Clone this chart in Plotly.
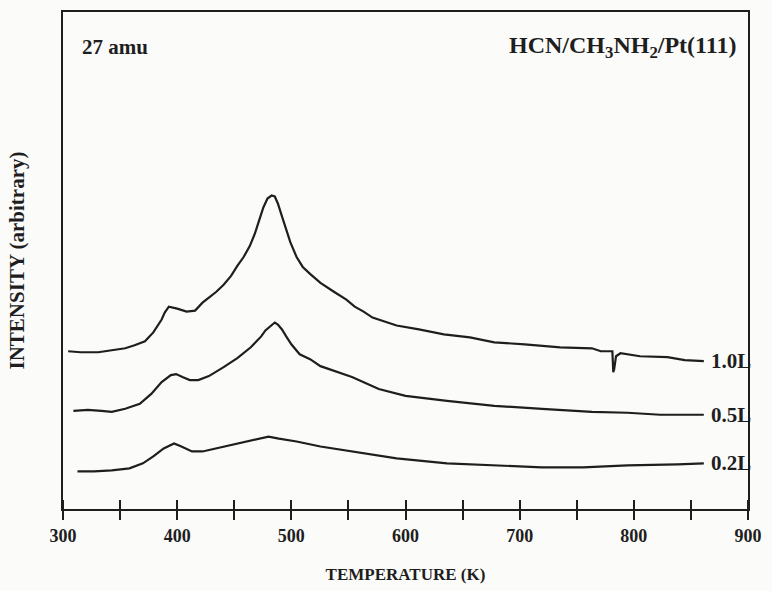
import plotly.graph_objects as go

# ---- data (temperature in K, intensity in arbitrary units) ----
t_10 = [304.5, 315.5, 330.9, 342.7, 354.5, 362.7, 371.8, 379.1, 386.4, 389.1, 392.7, 400.0,
        408.3, 415.7, 422.2, 427.8, 434.3, 440.7, 447.2, 452.7, 458.2, 463.6, 468.2, 471.8,
        475.5, 479.1, 482.7, 485.5, 488.2, 491.8, 495.5, 499.1, 504.6, 510.0, 516.4, 525.5,
        537.3, 548.2, 555.5, 563.3, 571.1, 581.3, 592.2, 611.8, 633.6, 656.4, 677.8, 704.5,
        735.5, 763.3, 771.1, 778.9, 781.2, 782.0, 782.8, 784.4, 788.3, 805.4, 829.5, 844.6,
        861.3]
i_10 = [159, 158, 158, 160, 162, 165, 169, 178, 191, 198, 204, 202,
        199, 200, 208, 213, 219, 226, 235, 245, 254, 265, 278, 291,
        304, 313, 316, 315, 308, 295, 281, 269, 254, 244, 237, 228,
        219, 211, 204, 199, 193, 189, 185, 181, 176, 173, 168, 166,
        163, 162, 159, 159, 159, 138, 141, 154, 157, 154, 153, 150,
        149]

t_05 = [309.1, 321.8, 333.6, 342.7, 354.5, 367.3, 377.3, 386.4, 394.5, 399.1, 404.6, 411.1,
        418.5, 427.8, 440.7, 452.7, 464.5, 473.6, 477.3, 481.8, 485.5, 488.2, 491.8, 495.5,
        500.0, 507.3, 516.4, 525.5, 553.1, 576.6, 600.0, 636.4, 677.8, 719.5, 763.3, 794.5,
        823.2, 861.3]
i_05 = [99, 100, 99, 98, 101, 106, 116, 128, 135, 136, 133, 130,
        130, 134, 143, 152, 163, 174, 180, 184, 188, 186, 181, 174,
        166, 156, 151, 144, 133, 121, 114, 109, 104, 101, 98, 97,
        95, 95]

t_02 = [312.7, 327.3, 342.7, 358.2, 370.0, 379.1, 388.2, 397.3, 403.7, 413.0, 422.2, 434.3,
        450.0, 464.5, 480.0, 489.1, 504.6, 525.5, 537.3, 566.4, 592.2, 636.4, 677.8, 719.5,
        755.5, 794.5, 838.4, 861.3]
i_02 = [38, 38, 39, 41, 46, 53, 61, 66, 63, 58, 58, 61,
        65, 69, 73, 71, 68, 63, 61, 56, 51, 46, 44, 42,
        42, 44, 45, 46]

series_names = ["1.0L", "0.5L", "0.2L"]
x_ticks = [300, 400, 500, 600, 700, 800, 900]
x_range = [300, 900]
y_range = [0, 501]

SERIF = "Liberation Serif"
INK = "#1e1e1e"

fig = go.Figure()
for name, tx, iy in zip(series_names, [t_10, t_05, t_02], [i_10, i_05, i_02]):
    fig.add_trace(go.Scatter(x=tx, y=iy, mode="lines", name=name,
                             line=dict(color=INK, width=2.2), showlegend=False))
    fig.add_annotation(x=tx[-1], y=iy[-1], xref="x", yref="y", text="<b>%s</b>" % name,
                       showarrow=False, xanchor="left", yanchor="middle", xshift=5,
                       font=dict(family=SERIF, size=21, color=INK))

# invisible companion trace for the overlaid axis that draws the inner half of the ticks
fig.add_trace(go.Scatter(x=[x_range[0]], y=[y_range[0]], xaxis="x2", mode="markers",
                         marker=dict(opacity=0), showlegend=False, hoverinfo="skip"))

fig.add_annotation(x=0.025, y=0.93, xref="paper", yref="paper", text="<b>27 amu</b>",
                   showarrow=False, xanchor="left", yanchor="middle",
                   font=dict(family=SERIF, size=21, color=INK))
fig.add_annotation(x=0.985, y=0.93, xref="paper", yref="paper",
                   text="<b>HCN/CH<sub>3</sub>NH<sub>2</sub>/Pt(111)</b>",
                   showarrow=False, xanchor="right", yanchor="middle",
                   font=dict(family=SERIF, size=24, color=INK))

axis_line = dict(showline=True, linecolor=INK, linewidth=2, showgrid=False, zeroline=False)

fig.update_layout(
    width=772, height=591,
    margin=dict(l=63, r=17, t=10, b=80),
    paper_bgcolor="#fbfbfa", plot_bgcolor="#fbfbfa",
    xaxis=dict(range=x_range, tickvals=x_ticks, ticks="outside", ticklen=9, tickwidth=1.5,
               tickcolor=INK, mirror=True,
               minor=dict(dtick=50, ticks="outside", ticklen=9, tickwidth=1.5, tickcolor=INK),
               tickfont=dict(family=SERIF, size=18, color=INK, weight="bold"),
               title=dict(text="<b>TEMPERATURE (K)</b>", standoff=24,
                          font=dict(family=SERIF, size=17, color=INK)),
               **axis_line),
    xaxis2=dict(range=x_range, overlaying="x", anchor="free", position=0, side="top",
                visible=True, layer="above traces",
                tickvals=x_ticks, ticks="outside", ticklen=9, tickwidth=1.5, tickcolor=INK,
                minor=dict(dtick=50, ticks="outside", ticklen=9, tickwidth=1.5, tickcolor=INK),
                showticklabels=False, showline=False, showgrid=False, zeroline=False),
    yaxis=dict(range=y_range, showticklabels=False, ticks="", mirror=True,
               title=dict(text="<b>INTENSITY (arbitrary)</b>", standoff=31,
                          font=dict(family=SERIF, size=21, color=INK)),
               **axis_line),
)

fig.write_html("out.html")
